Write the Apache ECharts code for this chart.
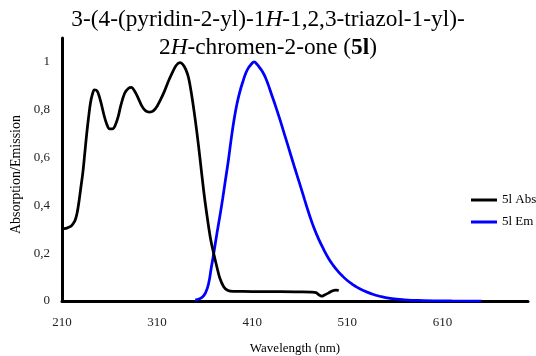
<!DOCTYPE html>
<html>
<head>
<meta charset="utf-8">
<script src="https://cdn.jsdelivr.net/npm/echarts@6/dist/echarts.min.js"></script>
<style>
  html, body { margin: 0; padding: 0; background: #fff; }
  #chart { width: 536px; height: 356px; }
</style>
</head>
<body>
<div id="chart"></div>
<script>
// Absorption spectrum (wavelength in nm, normalised intensity)
const absNm = [210, 212, 215, 218, 220, 222, 224, 226, 228, 230, 232, 234, 236, 238, 240, 242, 244, 246, 248, 251,
  254, 257, 260, 263, 266, 269, 272, 276, 280, 283, 286, 290, 294, 298, 302, 306, 310, 314, 318, 322,
  326, 330, 334, 337, 340, 343, 346, 349, 352, 355, 359, 362, 366, 370, 373, 376, 380, 384, 390, 400,
  420, 440, 460, 472, 477, 480, 483, 486, 490, 494, 498, 501];
const absVal = [0.298, 0.302, 0.305, 0.31, 0.315, 0.325, 0.34, 0.37, 0.42, 0.48, 0.54, 0.62, 0.70, 0.77, 0.83, 0.865, 0.883, 0.882, 0.87, 0.83,
  0.78, 0.74, 0.72, 0.72, 0.735, 0.77, 0.82, 0.87, 0.89, 0.893, 0.88, 0.85, 0.815, 0.795, 0.79, 0.795, 0.815, 0.845, 0.88, 0.92,
  0.955, 0.985, 0.997, 0.99, 0.97, 0.935, 0.87, 0.79, 0.70, 0.60, 0.46, 0.37, 0.265, 0.19, 0.14, 0.095, 0.06, 0.045, 0.04, 0.04,
  0.039, 0.039, 0.038, 0.037, 0.035, 0.026, 0.02, 0.025, 0.033, 0.042, 0.045, 0.044];

// Emission spectrum
const emNm = [350, 354, 358, 361, 364, 367, 370, 373, 376, 379, 382, 385, 388, 391, 394, 397, 400, 403, 406, 409,
  412, 415, 418, 421, 424, 427, 430, 435, 440, 445, 450, 455, 460, 465, 470, 475, 480, 485, 490, 495,
  500, 505, 510, 515, 520, 527, 535, 544, 555, 570, 590, 620, 651];
const emVal = [0.004, 0.008, 0.018, 0.035, 0.07, 0.14, 0.21, 0.285, 0.355, 0.43, 0.51, 0.59, 0.68, 0.76, 0.825, 0.875, 0.915, 0.95, 0.975, 0.99,
  1.0, 0.99, 0.975, 0.958, 0.934, 0.903, 0.868, 0.81, 0.748, 0.683, 0.618, 0.553, 0.49, 0.425, 0.362, 0.305, 0.258, 0.217, 0.18, 0.15,
  0.125, 0.104, 0.086, 0.071, 0.058, 0.044, 0.031, 0.02, 0.011, 0.005, 0.002, 0.0005, 0.0];

const seriesNames = ['5l Abs', '5l Em'];
const seriesColors = ['#000000', '#0000ff'];

const xTicks = [210, 310, 410, 510, 610];
const yTicks = [0, 0.2, 0.4, 0.6, 0.8, 1];

const FONT = '"Liberation Serif", "Times New Roman", serif';

function pairs(xs, ys) {
  return xs.map((x, i) => [x, ys[i]]);
}

const chart = echarts.init(document.getElementById('chart'), null, { renderer: 'canvas' });

chart.setOption({
  animation: false,
  backgroundColor: '#ffffff',
  title: {
    left: 'center',
    top: 6,
    padding: [0, 11, 0, 5],
    text: '3-(4-(pyridin-2-yl)-1{i|H}-1,2,3-triazol-1-yl)-\n2{i|H}-chromen-2-one ({b|5l})',
    textStyle: {
      fontFamily: FONT,
      fontSize: 23.3,
      fontWeight: 'normal',
      color: '#000',
      lineHeight: 28,
      rich: {
        i: { fontFamily: FONT, fontSize: 23.3, fontStyle: 'italic', color: '#000', lineHeight: 28 },
        b: { fontFamily: FONT, fontSize: 23.3, fontWeight: 'bold', color: '#000', lineHeight: 28 }
      }
    }
  },
  legend: {
    orient: 'vertical',
    left: 466,
    top: 187,
    itemWidth: 26,
    itemHeight: 3,
    itemGap: 6,
    icon: 'rect',
    data: seriesNames,
    textStyle: { fontFamily: FONT, fontSize: 13, color: '#000', lineHeight: 16 }
  },
  grid: { left: 62, right: 8, top: 38, bottom: 55, outerBoundsMode: 'none', containLabel: false },
  xAxis: {
    type: 'value',
    min: 210,
    max: 700,
    interval: 100,
    name: 'Wavelength (nm)',
    nameLocation: 'middle',
    nameGap: 41,
    nameTextStyle: { fontFamily: FONT, fontSize: 13, color: '#000' },
    axisLine: { show: true, lineStyle: { color: '#000', width: 3 } },
    axisTick: { show: false },
    splitLine: { show: false },
    axisLabel: {
      margin: 15,
      fontFamily: FONT,
      fontSize: 13,
      color: '#222',
      formatter: v => (xTicks.indexOf(v) >= 0 ? String(v) : '')
    }
  },
  yAxis: {
    type: 'value',
    min: 0,
    max: 1.1,
    interval: 0.2,
    name: 'Absorption/Emission',
    nameLocation: 'middle',
    nameGap: 38,
    nameTextStyle: { fontFamily: FONT, fontSize: 14, color: '#000', padding: [0, 10, 0, 0] },
    axisLine: { show: true, lineStyle: { color: '#000', width: 3 } },
    axisTick: { show: false },
    splitLine: { show: false },
    axisLabel: {
      margin: 12,
      fontFamily: FONT,
      fontSize: 13,
      color: '#222',
      formatter: v => {
        const hit = yTicks.find(t => Math.abs(t - v) < 1e-6);
        return hit === undefined ? '' : String(Math.round(hit * 10) / 10).replace('.', ',');
      }
    }
  },
  series: [
    {
      name: seriesNames[0],
      type: 'line',
      data: pairs(absNm, absVal),
      smooth: 0.35,
      showSymbol: false,
      symbol: 'none',
      lineStyle: { color: seriesColors[0], width: 2.75 },
      itemStyle: { color: seriesColors[0] },
      z: 3
    },
    {
      name: seriesNames[1],
      type: 'line',
      data: pairs(emNm, emVal),
      smooth: 0.5,
      showSymbol: false,
      symbol: 'none',
      lineStyle: { color: seriesColors[1], width: 2.75 },
      itemStyle: { color: seriesColors[1] },
      z: 2
    }
  ]
});
</script>
</body>
</html>
